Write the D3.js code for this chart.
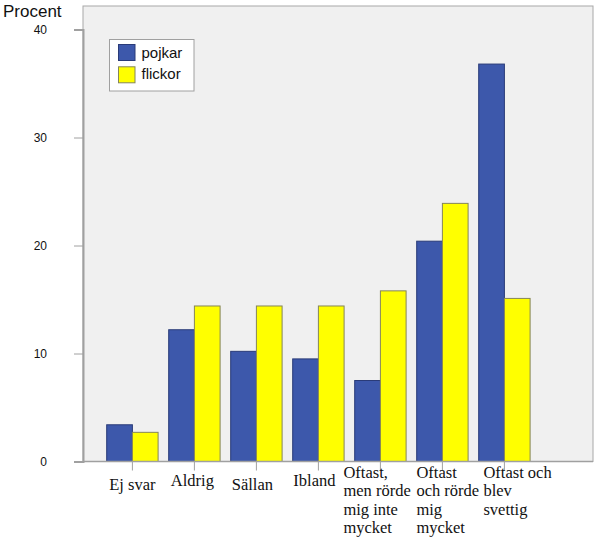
<!DOCTYPE html>
<html><head><meta charset="utf-8">
<script src="https://cdn.jsdelivr.net/npm/d3@7"></script>
<style>body{margin:0;background:#fff}svg{display:block}</style>
</head><body><svg id="c" width="600" height="540"></svg>
<script>
const categories = ["Ej svar","Aldrig","Sällan","Ibland","Oftast, men rörde mig inte mycket","Oftast och rörde mig mycket","Oftast och blev svettig"];
const categoryLines = [["Ej svar"],["Aldrig"],["Sällan"],["Ibland"],["Oftast,","men rörde","mig inte","mycket"],["Oftast","och rörde","mig","mycket"],["Oftast och","blev","svettig"]];
const seriesNames = ["pojkar","flickor"];
const pojkar = [3.4, 12.2, 10.2, 9.5, 7.5, 20.4, 36.8];
const flickor = [2.7, 14.4, 14.4, 14.4, 15.8, 23.9, 15.1];
const yTicks = [0, 10, 20, 30, 40];

const colors = {pojkar:"#3d58ab", flickor:"#ffff00"};
const strokes = {pojkar:"#2a3b78", flickor:"#85855a"};
const labelDx = [0, -2, -4, -4, -37, -26, -21];
const labelBaseline = [490, 486, 490, 486, 478, 478, 478];

const svg = d3.select("#c");
const frame = {l:83, r:593, t:6, b:461.5};
const y = d3.scaleLinear().domain([0,40]).range([461.5, 29.5]);
const x = d3.scaleBand().domain(categories).range([101.4, 535.4]).paddingInner(0.171).paddingOuter(0.0855);
const xs = d3.scaleBand().domain(seriesNames).range([0, x.bandwidth()]);

svg.append("rect").attr("x",frame.l).attr("y",frame.t).attr("width",frame.r-frame.l).attr("height",frame.b-frame.t)
  .attr("fill","#f0f0f0").attr("stroke","#a8a8a8").attr("stroke-width",1);

const data = categories.map((c,i)=>({c, pojkar:pojkar[i], flickor:flickor[i]}));
const g = svg.append("g");
data.forEach(d=>{
  seriesNames.forEach(s=>{
    g.append("rect")
      .attr("x", x(d.c)+xs(s)).attr("y", y(d[s]))
      .attr("width", xs.bandwidth()).attr("height", y(0)-y(d[s]))
      .attr("fill", colors[s]).attr("stroke", strokes[s]).attr("stroke-width",1);
  });
});

// y axis
const ya = svg.append("g").attr("transform",`translate(${frame.l},0)`)
  .call(d3.axisLeft(y).tickValues(yTicks).tickSize(9).tickPadding(27));
ya.select(".domain").attr("stroke","#a0a0a0").attr("stroke-width",2);
ya.selectAll(".tick line").attr("stroke","#a0a0a0");
ya.selectAll(".tick text").attr("font-family","Arial, 'Liberation Sans', sans-serif").attr("font-size",12).attr("fill","#111");

// x axis
svg.append("line").attr("x1",frame.l).attr("x2",frame.r).attr("y1",frame.b).attr("y2",frame.b).attr("stroke","#a0a0a0").attr("stroke-width",1.5);
const xa = svg.append("g");
categories.forEach((c,i)=>{
  const cx = x(c)+x.bandwidth()/2;
  xa.append("line").attr("x1",cx).attr("x2",cx).attr("y1",frame.b).attr("y2",frame.b+9).attr("stroke","#a0a0a0");
  const lines = categoryLines[i];
  const t = xa.append("text").attr("font-family","'Liberation Serif','Times New Roman',serif").attr("font-size",16.5).attr("fill","#111")
    .attr("text-anchor", lines.length>1 ? "start" : "middle");
  lines.forEach((ln,j)=>{
    t.append("tspan").attr("x", cx + labelDx[i]).attr("y", labelBaseline[i] + j*18.3).text(ln);
  });
});

svg.append("text").attr("x",3).attr("y",17).attr("font-family","Arial, 'Liberation Sans', sans-serif").attr("font-size",17).attr("fill","#111").text("Procent");

// legend
const lg = svg.append("g");
lg.append("rect").attr("x",109.5).attr("y",39.5).attr("width",84.5).attr("height",51.5).attr("fill","#fff").attr("stroke","#a0a0a0");
seriesNames.forEach((s,i)=>{
  lg.append("rect").attr("x",118.5).attr("y",44.5+i*22.3).attr("width",16.5).attr("height",16).attr("fill",colors[s]).attr("stroke",strokes[s]);
  lg.append("text").attr("x",141.5).attr("y",58+i*21.3).attr("font-family","Arial, 'Liberation Sans', sans-serif").attr("font-size",15).attr("fill","#111").text(s);
});
</script></body></html>
